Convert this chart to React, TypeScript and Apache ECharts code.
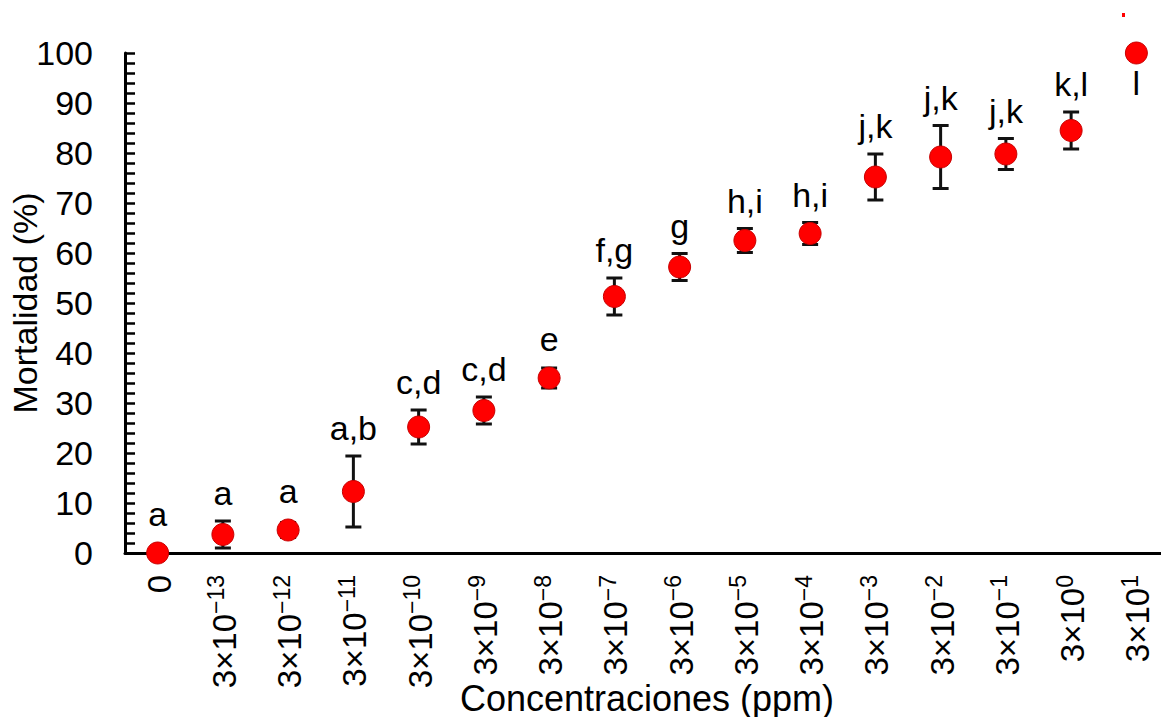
import React, { useEffect, useRef } from "react";
import * as echarts from "echarts";

const categories = [
  "0",
  "3×10⁻¹³",
  "3×10⁻¹²",
  "3×10⁻¹¹",
  "3×10⁻¹⁰",
  "3×10⁻⁹",
  "3×10⁻⁸",
  "3×10⁻⁷",
  "3×10⁻⁶",
  "3×10⁻⁵",
  "3×10⁻⁴",
  "3×10⁻³",
  "3×10⁻²",
  "3×10⁻¹",
  "3×10⁰",
  "3×10¹",
];
const mortality = [0, 3.7, 4.6, 12.3, 25.2, 28.5, 35, 51.3, 57.2, 62.5, 63.9, 75.2, 79.2, 79.8, 84.5, 100];
const errors = [0, 2.7, 1.5, 7.1, 3.4, 2.7, 2.0, 3.7, 2.7, 2.4, 2.2, 4.6, 6.3, 3.1, 3.7, 0];
const letters = ["a", "a", "a", "a,b", "c,d", "c,d", "e", "f,g", "g", "h,i", "h,i", "j,k", "j,k", "j,k", "k,l", "l"];
const yTicks = [0, 10, 20, 30, 40, 50, 60, 70, 80, 90, 100];

const FONT = '"Liberation Sans", Arial, sans-serif';

const SUP_MAP: Record<string, string> = {
  "⁻": "−", "⁰": "0", "¹": "1", "²": "2", "³": "3", "⁴": "4",
  "⁵": "5", "⁶": "6", "⁷": "7", "⁸": "8", "⁹": "9",
};

function toRich(label: string): string {
  const idx = label.indexOf("10");
  if (idx < 0) return `{b|${label}}`;
  const base = label.slice(0, idx + 2);
  const exp = label
    .slice(idx + 2)
    .split("")
    .map((ch) => SUP_MAP[ch] ?? ch)
    .join("");
  return `{b|${base}}{s|${exp}}`;
}

export default function App() {
  const ref = useRef<HTMLDivElement>(null);
  useEffect(() => {
    document.body.style.margin = "0";
    if (!ref.current) return;
    const chart = echarts.init(ref.current, null, { renderer: "svg" });
    const errData = mortality.map((v, i) => [i, v, errors[i]]);
    const option: any = {
      animation: false,
      backgroundColor: "#fff",
      grid: {
        left: 125,
        right: -8,
        top: 53,
        bottom: 164,
        outerBoundsMode: "none",
        containLabel: false,
      },
      xAxis: {
        type: "category",
        data: categories,
        boundaryGap: true,
        name: "Concentraciones (ppm)",
        nameLocation: "middle",
        nameGap: 127,
        nameMoveOverlap: false,
        nameTextStyle: { fontSize: 36, fontFamily: FONT, color: "#000", verticalAlign: "top", lineHeight: 36 },
        axisLine: { show: true, lineStyle: { color: "#000", width: 3 } },
        axisTick: { show: false },
        axisLabel: {
          rotate: 90,
          fontFamily: FONT,
          color: "#000",
          margin: 22,
          interval: 0,
          formatter: (v: string) => toRich(v),
          rich: {
            b: { fontSize: 33, fontFamily: FONT, color: "#000", lineHeight: 36, verticalAlign: "bottom" },
            s: { fontSize: 23, fontFamily: FONT, color: "#000", lineHeight: 36, verticalAlign: "top", padding: [0, 0, 8, 0] },
          },
        },
        splitLine: { show: false },
      },
      yAxis: {
        type: "value",
        min: yTicks[0],
        max: yTicks[yTicks.length - 1],
        interval: 10,
        name: "Mortalidad (%)",
        nameLocation: "middle",
        nameGap: 83,
        nameMoveOverlap: false,
        nameTextStyle: { fontSize: 34, fontFamily: FONT, color: "#000" },
        axisLine: { show: true, lineStyle: { color: "#000", width: 3 } },
        axisTick: { show: true, inside: true, length: 10, lineStyle: { color: "#000", width: 2.5 } },
        minorTick: { show: true, splitNumber: 5, length: 10, lineStyle: { color: "#000", width: 2.5 } },
        axisLabel: { fontSize: 34, fontFamily: FONT, color: "#000", margin: 32 },
        splitLine: { show: false },
      },
      graphic: [
        { type: "rect", shape: { x: 1122, y: 13, width: 3, height: 4 }, style: { fill: "#ff0000" } },
      ],
      series: [
        {
          type: "custom",
          z: 1,
          data: errData,
          clip: false,
          renderItem: (params: any, api: any) => {
            const i = api.value(0);
            const v = api.value(1);
            const e = api.value(2);
            const c = api.coord([i, v]);
            const t = api.coord([i, v + e]);
            const b = api.coord([i, v - e]);
            const capHalf = 8;
            const ls = { stroke: "#111", lineWidth: 3 };
            const children: any[] = [];
            if (e > 0) {
              children.push({ type: "line", shape: { x1: c[0], y1: t[1], x2: c[0], y2: b[1] }, style: ls });
              children.push({ type: "line", shape: { x1: c[0] - capHalf, y1: t[1], x2: c[0] + capHalf, y2: t[1] }, style: ls });
              children.push({ type: "line", shape: { x1: c[0] - capHalf, y1: b[1], x2: c[0] + capHalf, y2: b[1] }, style: ls });
            }
            const letter = letters[params.dataIndex];
            if (v + e >= 100) {
              children.push({
                type: "text",
                x: c[0],
                y: c[1] + 13,
                style: { text: letter, fill: "#000", fontSize: 34, fontFamily: FONT, align: "center", verticalAlign: "top" },
              });
            } else {
              const top = Math.min(t[1], c[1] - 11);
              children.push({
                type: "text",
                x: c[0],
                y: top - 11,
                style: { text: letter, fill: "#000", fontSize: 34, fontFamily: FONT, align: "center", verticalAlign: "bottom" },
              });
            }
            return { type: "group", children };
          },
        },
        {
          type: "scatter",
          z: 3,
          data: mortality,
          symbol: "circle",
          symbolSize: 22,
          clip: false,
          itemStyle: { color: "#ff0000", borderColor: "#c80000", borderWidth: 1, opacity: 1 },
        },
      ],
    };
    chart.setOption(option);
    return () => chart.dispose();
  }, []);
  return <div ref={ref} style={{ width: 1161, height: 717 }} />;
}
